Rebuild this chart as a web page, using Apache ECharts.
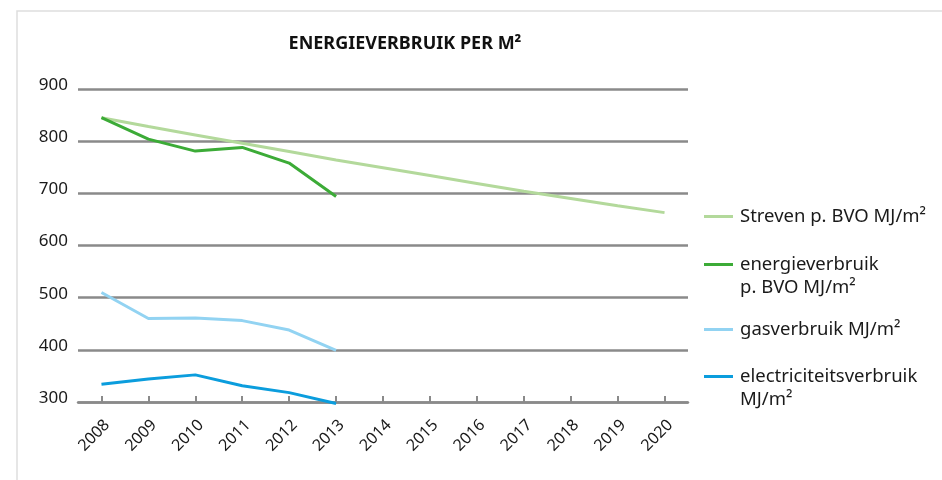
<!DOCTYPE html>
<html>
<head>
    <meta charset="UTF-8">
    <title>Energieverbruik per m²</title>
    <script src="https://cdn.jsdelivr.net/npm/echarts@6/dist/echarts.min.js"></script>
    <style>
        html, body { margin: 0; padding: 0; background: #fff; }
        #container { width: 942px; height: 480px; }
    </style>
</head>
<body>
<div id="container"></div>
<script>
    // jaren op de x-as
    var years = ['2008', '2009', '2010', '2011', '2012', '2013', '2014', '2015', '2016', '2017', '2018', '2019', '2020'];
    // waarden (MJ/m²)
    var streven = [845, 828, 812, 796, 780, 764, 749, 734, 719, 704, 690, 676, 663];
    var energie = [845, 804, 781, 788, 758, 694];
    var gas = [510, 460, 461, 456, 438, 399];
    var elektra = [334, 344, 352, 331, 318, 297];
    var yTicks = [300, 400, 500, 600, 700, 800, 900];

    var names = ['Streven p. BVO MJ/m²', 'energieverbruik\np. BVO MJ/m²', 'gasverbruik MJ/m²', 'electriciteitsverbruik\nMJ/m²'];
    var colors = ['#b3d99b', '#3cab37', '#92d3f2', '#0b9ddd'];
    var font = 'Noto Sans';

    var chart = echarts.init(document.getElementById('container'));

    // losse legenda per serie, zodat het lijntje bij de eerste regel staat
    var legendTops = [205, 230, 318, 342];
    var legends = names.map(function (n, i) {
        return {
            data: [n],
            orient: 'vertical',
            left: 704,
            top: legendTops[i],
            padding: 0,
            itemWidth: 29,
            itemHeight: 3,
            itemGap: 7,
            icon: 'rect',
            selectedMode: false,
            formatter: function (name) {
                // lege regel erboven bij tweeregelige namen
                return name.indexOf('\n') >= 0 ? ' \n' + name : name;
            },
            textStyle: { fontFamily: font, fontSize: 18.5, color: '#1a1a1a', lineHeight: 23, padding: [0, 0, 0, 2] }
        };
    });

    function line(name, data, color) {
        return {
            name: name,
            type: 'line',
            data: data,
            symbol: 'none',
            clip: false,
            lineStyle: { color: color, width: 3 },
            itemStyle: { color: color }
        };
    }

    var option = {
        animation: false,
        graphic: [{
            type: 'rect',
            shape: { x: 17, y: 11, width: 940, height: 480 },
            style: { fill: 'none', stroke: '#dedede', lineWidth: 1.5 },
            silent: true
        }],
        title: {
            text: 'ENERGIEVERBRUIK PER M²',
            left: 400,
            textAlign: 'center',
            top: 30,
            textStyle: { fontFamily: font, fontWeight: 'bold', fontSize: 18, color: '#111' }
        },
        legend: legends,
        grid: { left: 78, right: 254, top: 89, bottom: 78 },
        xAxis: {
            type: 'category',
            data: years,
            boundaryGap: true,
            axisLine: { lineStyle: { color: '#8a8a8a', width: 2.5 } },
            axisTick: { show: true, alignWithLabel: true, inside: true, length: 6, lineStyle: { color: '#8a8a8a', width: 2 } },
            axisLabel: { rotate: 45, margin: 15, verticalAlign: 'top', fontFamily: font, fontSize: 16, color: '#1a1a1a' }
        },
        yAxis: {
            type: 'value',
            min: yTicks[0],
            max: yTicks[yTicks.length - 1],
            interval: 100,
            axisLine: { show: false },
            axisTick: { show: false },
            splitLine: { lineStyle: { color: '#8a8a8a', width: 2.5 } },
            axisLabel: { margin: 10, fontFamily: font, fontSize: 17, color: '#1a1a1a', verticalAlign: 'bottom', lineHeight: 8 }
        },
        series: [
            line(names[0], streven, colors[0]),
            line(names[1], energie, colors[1]),
            line(names[2], gas, colors[2]),
            line(names[3], elektra, colors[3])
        ]
    };
    chart.setOption(option);
</script>
</body>
</html>
